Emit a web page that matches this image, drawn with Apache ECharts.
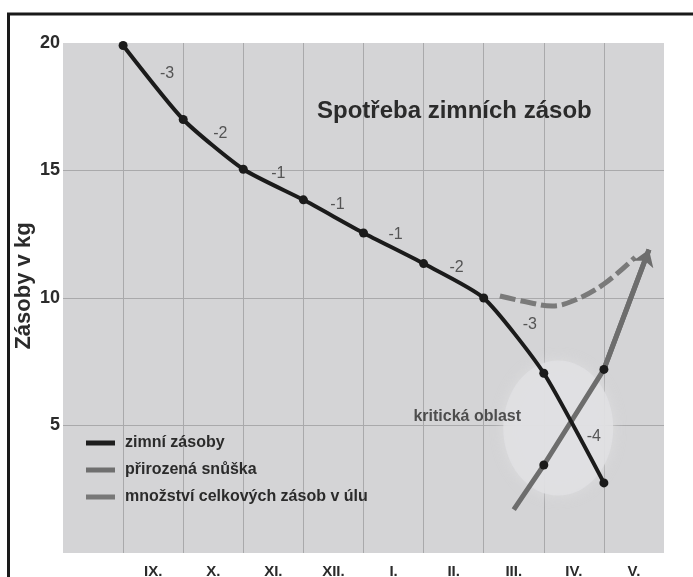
<!DOCTYPE html>
<html>
<head>
<meta charset="utf-8">
<script src="https://cdn.jsdelivr.net/npm/echarts@6/dist/echarts.min.js"></script>
<style>
html, body { margin: 0; padding: 0; background: #fff; }
#graf { width: 693px; height: 577px; }
</style>
</head>
<body>
<div id="graf"></div>
<script>
// data
var mesice = ['', 'IX.', 'X.', 'XI.', 'XII.', 'I.', 'II.', 'III.', 'IV.', 'V.'];
// zimní zásoby at the gridlines x = 1..9
var zimniZasoby = [19.9, 17.0, 15.05, 13.85, 12.55, 11.35, 10.0, 7.05, 2.75];
var spotreba = ['-3', '-2', '-1', '-1', '-1', '-2', '-3', '-4'];
var snuska = [[7.5, 1.7], [8, 3.45], [9, 7.2], [9.75, 11.9]];
var celkem = [[7.27, 10.08], [7.7, 9.85], [8.14, 9.69], [8.5, 9.9], [9.0, 10.55], [9.52, 11.6]];
var kritickaOblast = [8.24, 4.9];
var yMin = 0, yMax = 20, yKrok = 5;

var pismo = 'Liberation Sans, Arial, sans-serif';
var tmava = '#2b2b2b';

// label offsets for the consumption numbers (px)
var posunyPopisku = [[14, -9], [7, -11], [5, -11], [4, -12], [2, -14], [3, -13], [16, -11], [20, 9]];

var graf = echarts.init(document.getElementById('graf'));

var zimniData = zimniZasoby.map(function (v, i) { return [i + 1, v]; });
var popiskyData = spotreba.map(function (t, i) {
    return {
        value: [i + 1.5, (zimniZasoby[i] + zimniZasoby[i + 1]) / 2],
        label: { offset: posunyPopisku[i] }
    };
});
var snuskaData = snuska.map(function (p, i) {
    var krajni = (i === 0 || i === snuska.length - 1);
    return { value: p, symbol: krajni ? 'none' : 'circle' };
});

var option = {
    animation: false,
    title: {
        text: 'Spotřeba zimních zásob',
        left: 317,
        top: 99,
        padding: 0,
        textStyle: { fontFamily: pismo, fontSize: 24, fontWeight: 'bold', color: tmava }
    },
    legend: {
        orient: 'vertical',
        left: 86,
        top: 435,
        padding: 0,
        itemWidth: 29,
        itemHeight: 5,
        itemGap: 11,
        textStyle: { fontFamily: pismo, fontSize: 16, fontWeight: 'bold', color: tmava, padding: [0, 0, 0, 5] },
        data: [
            { name: 'zimní zásoby', icon: 'rect', itemStyle: { color: '#1e1e1e' } },
            { name: 'přirozená snůška', icon: 'rect', itemStyle: { color: '#6f6f6f' } },
            { name: 'množství celkových zásob v úlu', icon: 'rect', itemStyle: { color: '#787878' } }
        ]
    },
    graphic: [{
        type: 'rect',
        shape: { x: 8.5, y: 14, width: 720, height: 620 },
        style: { fill: 'none', stroke: '#1a1a1a', lineWidth: 3 },
        silent: true
    }],
    grid: {
        left: 63, right: 29, top: 43, bottom: 24,
        outerBoundsMode: 'none',
        show: true, backgroundColor: '#d4d4d6', borderWidth: 0
    },
    xAxis: [{
        type: 'category',
        data: mesice,
        boundaryGap: true,
        axisLine: { show: false },
        axisTick: { show: false },
        axisLabel: { interval: 0, margin: 11, fontFamily: pismo, fontSize: 15, fontWeight: 'bold', color: tmava },
        splitLine: { show: true, showMinLine: false, showMaxLine: false, lineStyle: { color: '#a9a9ab', width: 1 } }
    }, {
        type: 'value',
        min: 0,
        max: mesice.length,
        show: false
    }],
    yAxis: {
        type: 'value',
        min: yMin,
        max: yMax,
        interval: yKrok,
        name: 'Zásoby v kg',
        nameLocation: 'middle',
        nameGap: 28,
        nameMoveOverlap: false,
        nameTextStyle: { fontFamily: pismo, fontSize: 22, fontWeight: 'bold', color: tmava, padding: [0, 0, 0, 24] },
        axisLine: { show: false },
        axisTick: { show: false },
        axisLabel: { showMinLabel: false, margin: 3, fontFamily: pismo, fontSize: 18, fontWeight: 'bold', color: tmava },
        splitLine: { showMinLine: false, showMaxLine: false, lineStyle: { color: '#a9a9ab', width: 1 } }
    },
    series: [
        {
            type: 'scatter',
            xAxisIndex: 1,
            silent: true,
            z: 1,
            data: [kritickaOblast],
            symbolSize: [110, 135],
            itemStyle: { color: '#e1e1e3', shadowBlur: 14, shadowColor: '#dedee0' },
            label: {
                show: true,
                position: 'inside',
                offset: [-91, -11],
                formatter: 'kritická oblast',
                fontFamily: pismo, fontSize: 16, fontWeight: 'bold', color: tmava
            }
        },
        {
            name: 'množství celkových zásob v úlu',
            type: 'line',
            xAxisIndex: 1,
            z: 3,
            data: celkem,
            smooth: 0.4,
            symbol: 'none',
            lineStyle: { color: '#7a7a7a', width: 5, type: [16, 5] },
            itemStyle: { color: '#787878' }
        },
        {
            name: 'přirozená snůška',
            type: 'line',
            xAxisIndex: 1,
            z: 4,
            data: snuskaData,
            symbolSize: 9,
            lineStyle: { color: '#6d6d6d', width: 5 },
            itemStyle: { color: '#1b1b1b' }
        },
        {
            type: 'lines',
            coordinateSystem: 'cartesian2d',
            xAxisIndex: 1,
            z: 4,
            silent: true,
            symbol: ['none', 'arrow'],
            symbolSize: 16,
            lineStyle: { color: '#6d6d6d', width: 5, opacity: 1 },
            data: [{ coords: [snuska[snuska.length - 2], snuska[snuska.length - 1]] }]
        },
        {
            name: 'zimní zásoby',
            type: 'line',
            xAxisIndex: 1,
            z: 5,
            data: zimniData,
            smooth: 0.2,
            symbol: 'circle',
            symbolSize: 9,
            lineStyle: { color: '#1b1b1b', width: 4 },
            itemStyle: { color: '#1b1b1b' }
        },
        {
            type: 'scatter',
            xAxisIndex: 1,
            silent: true,
            z: 6,
            symbolSize: 0,
            data: popiskyData,
            label: {
                show: true,
                position: 'inside',
                formatter: function (p) { return spotreba[p.dataIndex]; },
                fontFamily: pismo, fontSize: 16, color: '#333'
            }
        }
    ]
};

graf.setOption(option);
</script>
</body>
</html>
